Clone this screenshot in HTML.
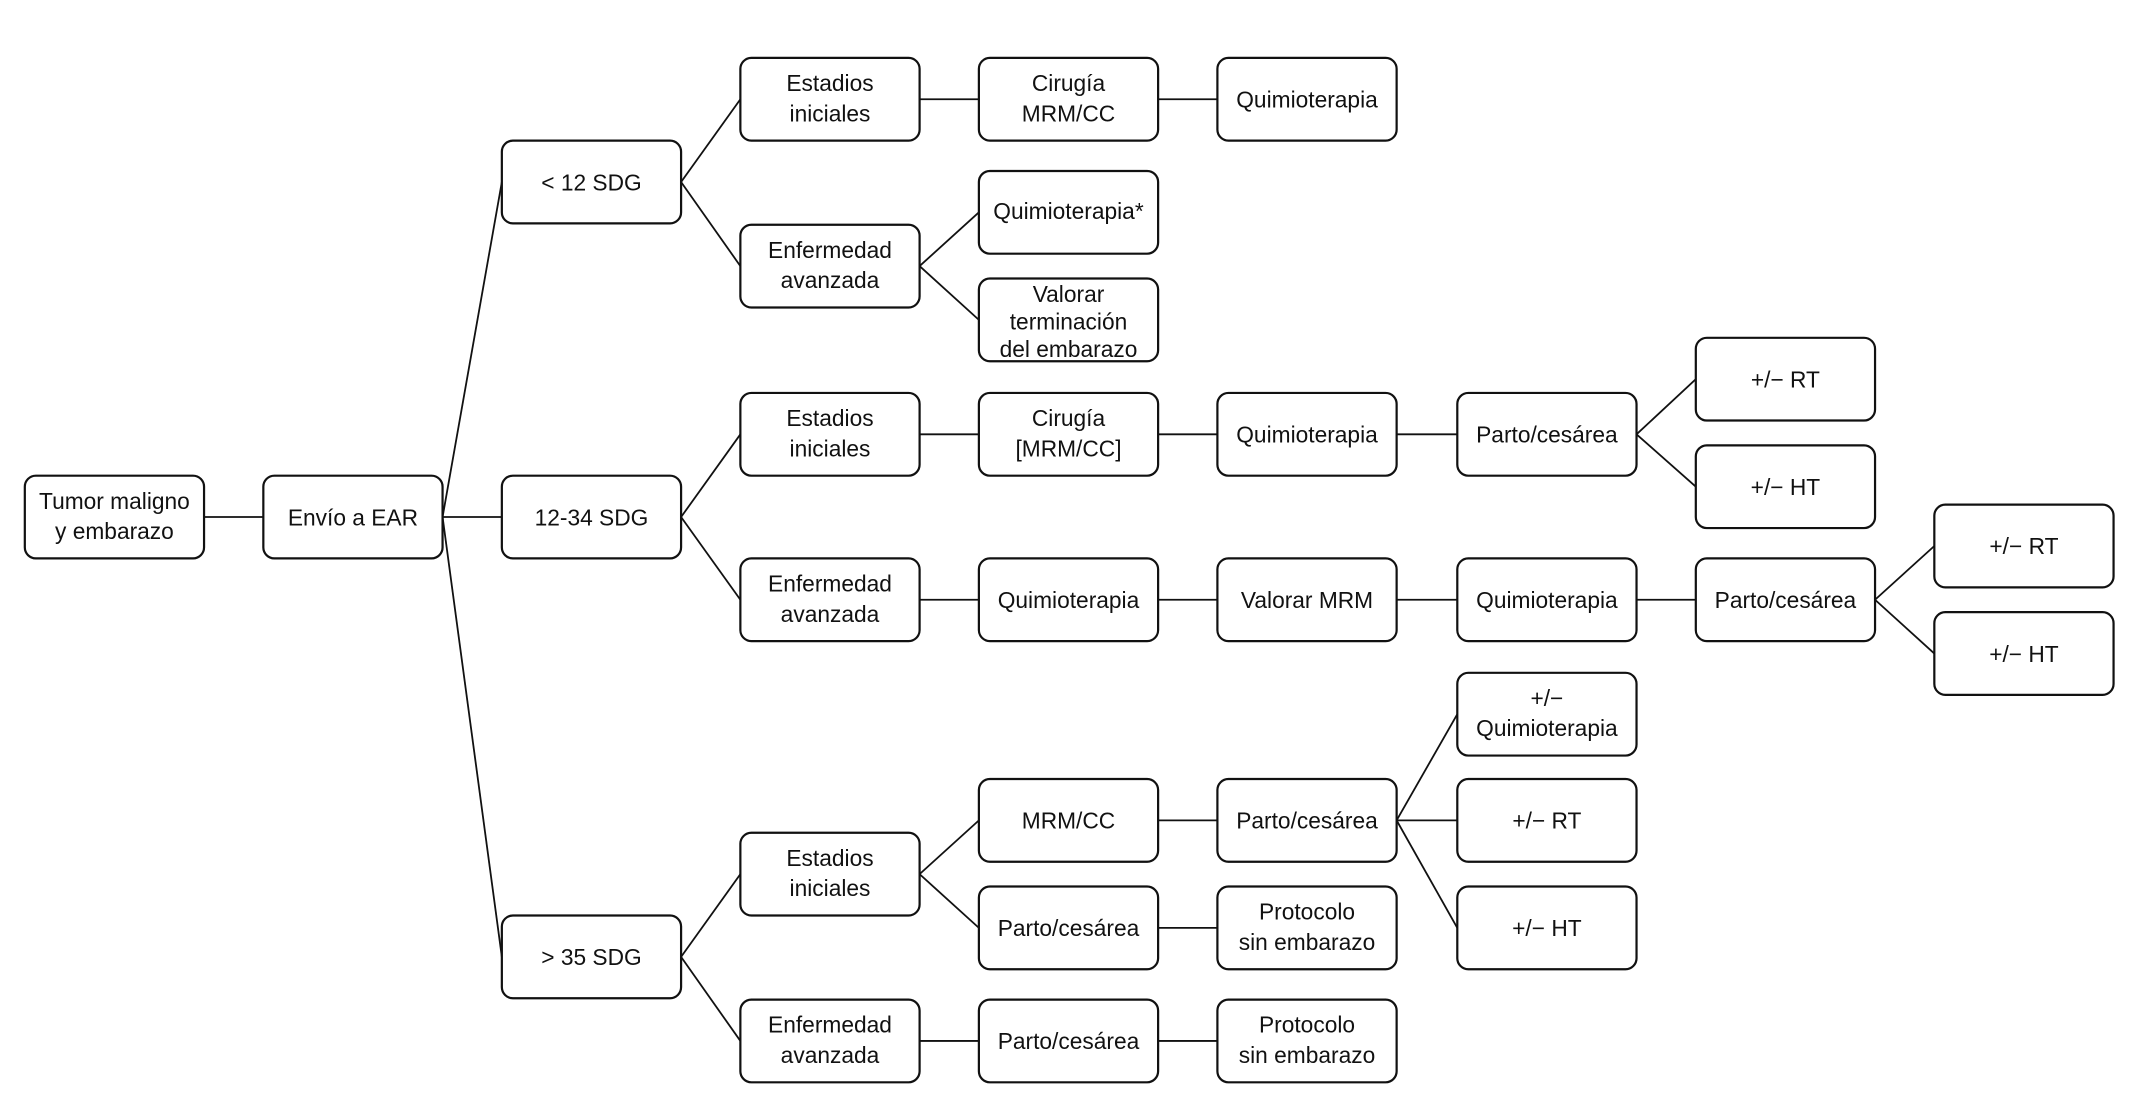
<!DOCTYPE html>
<html><head><meta charset="utf-8"><style>
html,body{margin:0;padding:0;background:#fff;}
svg{display:block;}
text{font-family:"Liberation Sans Narrow","Liberation Sans",sans-serif;font-size:16.5px;fill:#111;text-anchor:middle;}
rect{fill:#fff;stroke:#111;stroke-width:1.6;}
line{stroke:#111;stroke-width:1.3;}
</style></head><body>
<svg width="2137" height="1095" viewBox="0 0 1550 794.2" preserveAspectRatio="none">
<g>
<line x1="148" y1="375" x2="191" y2="375"/>
<line x1="321" y1="375" x2="364" y2="132"/>
<line x1="321" y1="375" x2="364" y2="375"/>
<line x1="321" y1="375" x2="364" y2="694"/>
<line x1="494" y1="132" x2="537" y2="72"/>
<line x1="494" y1="132" x2="537" y2="193"/>
<line x1="667" y1="72" x2="710" y2="72"/>
<line x1="840" y1="72" x2="883" y2="72"/>
<line x1="667" y1="193" x2="710" y2="154"/>
<line x1="667" y1="193" x2="710" y2="232"/>
<line x1="494" y1="375" x2="537" y2="315"/>
<line x1="494" y1="375" x2="537" y2="435"/>
<line x1="667" y1="315" x2="710" y2="315"/>
<line x1="840" y1="315" x2="883" y2="315"/>
<line x1="1013" y1="315" x2="1057" y2="315"/>
<line x1="1187" y1="315" x2="1230" y2="275"/>
<line x1="1187" y1="315" x2="1230" y2="353"/>
<line x1="667" y1="435" x2="710" y2="435"/>
<line x1="840" y1="435" x2="883" y2="435"/>
<line x1="1013" y1="435" x2="1057" y2="435"/>
<line x1="1187" y1="435" x2="1230" y2="435"/>
<line x1="1360" y1="435" x2="1403" y2="396"/>
<line x1="1360" y1="435" x2="1403" y2="474"/>
<line x1="494" y1="694" x2="537" y2="634"/>
<line x1="494" y1="694" x2="537" y2="755"/>
<line x1="667" y1="634" x2="710" y2="595"/>
<line x1="667" y1="634" x2="710" y2="673"/>
<line x1="840" y1="595" x2="883" y2="595"/>
<line x1="1013" y1="595" x2="1057" y2="518"/>
<line x1="1013" y1="595" x2="1057" y2="595"/>
<line x1="1013" y1="595" x2="1057" y2="673"/>
<line x1="840" y1="673" x2="883" y2="673"/>
<line x1="667" y1="755" x2="710" y2="755"/>
<line x1="840" y1="755" x2="883" y2="755"/>
</g>
<g>
<rect x="18" y="345" width="130" height="60" rx="8"/>
<text x="83" y="369">Tumor maligno</text><text x="83" y="391">y embarazo</text>
<rect x="191" y="345" width="130" height="60" rx="8"/>
<text x="256" y="381">Envío a EAR</text>
<rect x="364" y="102" width="130" height="60" rx="8"/>
<text x="429" y="138">&lt; 12 SDG</text>
<rect x="364" y="345" width="130" height="60" rx="8"/>
<text x="429" y="381">12-34 SDG</text>
<rect x="364" y="664" width="130" height="60" rx="8"/>
<text x="429" y="700">&gt; 35 SDG</text>

<rect x="537" y="42" width="130" height="60" rx="8"/>
<text x="602" y="66">Estadios</text><text x="602" y="88">iniciales</text>
<rect x="710" y="42" width="130" height="60" rx="8"/>
<text x="775" y="66">Cirugía</text><text x="775" y="88">MRM/CC</text>
<rect x="883" y="42" width="130" height="60" rx="8"/>
<text x="948" y="78">Quimioterapia</text>

<rect x="537" y="163" width="130" height="60" rx="8"/>
<text x="602" y="187">Enfermedad</text><text x="602" y="209">avanzada</text>
<rect x="710" y="124" width="130" height="60" rx="8"/>
<text x="775" y="159">Quimioterapia*</text>
<rect x="710" y="202" width="130" height="60" rx="8"/>
<text x="775" y="219">Valorar</text><text x="775" y="239">terminación</text><text x="775" y="259">del embarazo</text>

<rect x="537" y="285" width="130" height="60" rx="8"/>
<text x="602" y="309">Estadios</text><text x="602" y="331">iniciales</text>
<rect x="710" y="285" width="130" height="60" rx="8"/>
<text x="775" y="309">Cirugía</text><text x="775" y="331">[MRM/CC]</text>
<rect x="883" y="285" width="130" height="60" rx="8"/>
<text x="948" y="321">Quimioterapia</text>
<rect x="1057" y="285" width="130" height="60" rx="8"/>
<text x="1122" y="321">Parto/cesárea</text>
<rect x="1230" y="245" width="130" height="60" rx="8"/>
<text x="1295" y="281">+/− RT</text>
<rect x="1230" y="323" width="130" height="60" rx="8"/>
<text x="1295" y="359">+/− HT</text>

<rect x="537" y="405" width="130" height="60" rx="8"/>
<text x="602" y="429">Enfermedad</text><text x="602" y="451">avanzada</text>
<rect x="710" y="405" width="130" height="60" rx="8"/>
<text x="775" y="441">Quimioterapia</text>
<rect x="883" y="405" width="130" height="60" rx="8"/>
<text x="948" y="441">Valorar MRM</text>
<rect x="1057" y="405" width="130" height="60" rx="8"/>
<text x="1122" y="441">Quimioterapia</text>
<rect x="1230" y="405" width="130" height="60" rx="8"/>
<text x="1295" y="441">Parto/cesárea</text>
<rect x="1403" y="366" width="130" height="60" rx="8"/>
<text x="1468" y="402">+/− RT</text>
<rect x="1403" y="444" width="130" height="60" rx="8"/>
<text x="1468" y="480">+/− HT</text>

<rect x="537" y="604" width="130" height="60" rx="8"/>
<text x="602" y="628">Estadios</text><text x="602" y="650">iniciales</text>
<rect x="710" y="565" width="130" height="60" rx="8"/>
<text x="775" y="601">MRM/CC</text>
<rect x="883" y="565" width="130" height="60" rx="8"/>
<text x="948" y="601">Parto/cesárea</text>
<rect x="1057" y="488" width="130" height="60" rx="8"/>
<text x="1122" y="512">+/−</text><text x="1122" y="534">Quimioterapia</text>
<rect x="1057" y="565" width="130" height="60" rx="8"/>
<text x="1122" y="601">+/− RT</text>
<rect x="1057" y="643" width="130" height="60" rx="8"/>
<text x="1122" y="679">+/− HT</text>
<rect x="710" y="643" width="130" height="60" rx="8"/>
<text x="775" y="679">Parto/cesárea</text>
<rect x="883" y="643" width="130" height="60" rx="8"/>
<text x="948" y="667">Protocolo</text><text x="948" y="689">sin embarazo</text>

<rect x="537" y="725" width="130" height="60" rx="8"/>
<text x="602" y="749">Enfermedad</text><text x="602" y="771">avanzada</text>
<rect x="710" y="725" width="130" height="60" rx="8"/>
<text x="775" y="761">Parto/cesárea</text>
<rect x="883" y="725" width="130" height="60" rx="8"/>
<text x="948" y="749">Protocolo</text><text x="948" y="771">sin embarazo</text>
</g>
</svg>
</body></html>
